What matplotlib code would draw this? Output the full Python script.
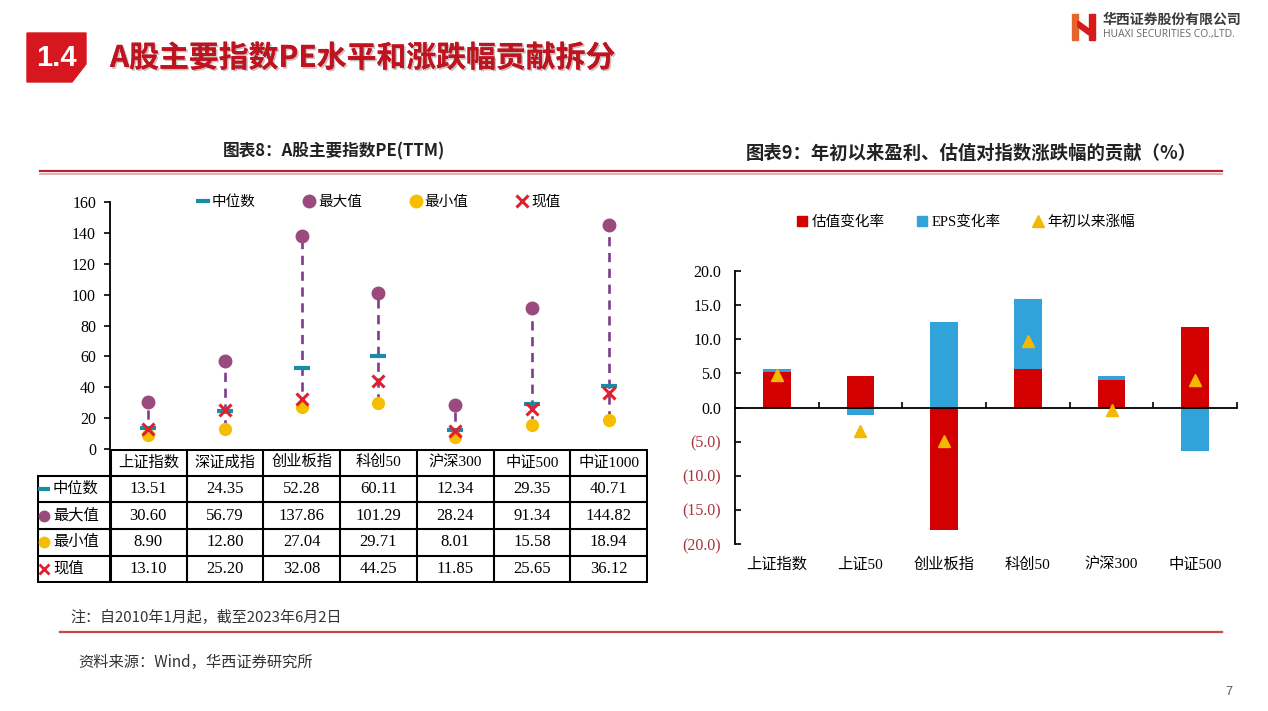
import numpy as np
import matplotlib
matplotlib.use("Agg")
import matplotlib.pyplot as plt
from matplotlib.lines import Line2D
from matplotlib.patches import Patch, Polygon, Rectangle
import matplotlib.patheffects as pe

plt.rcParams['font.family'] = ['Liberation Serif', 'Noto Sans CJK SC']
CJK = ['Noto Sans CJK SC', 'DejaVu Sans']

# left chart: PE(TTM) of the main A-share indices
pe_names = ["上证指数", "深证成指", "创业板指", "科创50", "沪深300", "中证500", "中证1000"]
pe_median = [13.51, 24.35, 52.28, 60.11, 12.34, 29.35, 40.71]
pe_max = [30.60, 56.79, 137.86, 101.29, 28.24, 91.34, 144.82]
pe_min = [8.90, 12.80, 27.04, 29.71, 8.01, 15.58, 18.94]
pe_now = [13.10, 25.20, 32.08, 44.25, 11.85, 25.65, 36.12]
pe_rows = ["中位数", "最大值", "最小值", "现值"]
pe_yticks = [0, 20, 40, 60, 80, 100, 120, 140, 160]

# right chart: contribution of valuation / EPS to YTD change (%)
ctb_names = ["上证指数", "上证50", "创业板指", "科创50", "沪深300", "中证500"]
ctb_val = [5.25, 4.66, -17.9, 5.7, 4.0, 11.76]
ctb_eps = [0.4, -1.03, 12.6, 10.2, 0.6, -6.4]
ctb_ytd = [4.7, -3.5, -4.85, 9.7, -0.3, 4.1]
ctb_yticks = [-20, -15, -10, -5, 0, 5, 10, 15, 20]

C_MED = "#1A8CA8"
C_MAX = "#9B4A7D"
C_MIN = "#F5BE00"
C_NOW = "#E0202E"
C_LINE = "#7E3C8C"
C_RED = "#D20000"
C_BLUE = "#32A2DA"
C_TRI = "#F5B800"

W, H = 1268, 711


def box(x0, y0, x1, y1):
    return [x0 / W, 1 - y1 / H, (x1 - x0) / W, (y1 - y0) / H]


fig = plt.figure(figsize=(12.68, 7.11), dpi=100)
fig.patch.set_facecolor("white")

# ---- page decoration ----
deco = fig.add_axes([0, 0, 1, 1], zorder=0)
deco.set_xlim(0, W)
deco.set_ylim(H, 0)
deco.axis("off")

deco.add_patch(Polygon([(27, 33), (86, 33), (86, 64), (72, 82), (27, 82)],
                       closed=True, color="#D7171F"))
deco.text(56, 58, "1.4", color="white", fontsize=21, fontweight="bold",
          family=["Liberation Sans", "DejaVu Sans"], ha="center", va="center")
deco.text(110, 58, "A股主要指数PE水平和涨跌幅贡献拆分", color="#BE1420", fontsize=21.5,
          fontweight="bold", family=CJK, ha="left", va="center",
          path_effects=[pe.withSimplePatchShadow(offset=(1.2, -1.2), alpha=0.25),
                        pe.Normal()])

# logo
deco.add_patch(Rectangle((1072, 14), 6, 26, color="#E8632B"))
deco.add_patch(Rectangle((1089, 14), 6, 26, color="#D7191C"))
deco.add_patch(Polygon([(1078, 21), (1089, 29), (1089, 35), (1078, 27)], closed=True,
                       color="#D7191C"))
deco.text(1103, 20, "华西证券股份有限公司", fontsize=10, fontweight="bold", family=CJK,
          color="#3a3a3a", ha="left", va="center")
deco.text(1103, 35, "HUAXI SECURITIES CO.,LTD.", fontsize=7.5, family=["Open Sans", "DejaVu Sans"],
          color="#666666", ha="left", va="center")

deco.text(334, 151, "图表8：A股主要指数PE(TTM)", fontsize=12, fontweight="bold", family=CJK,
          color="#222222", ha="center", va="center")
deco.text(971, 153, "图表9：年初以来盈利、估值对指数涨跌幅的贡献（%）", fontsize=13.2,
          fontweight="bold", family=CJK, color="#222222", ha="center", va="center")
deco.plot([40, 1222], [171, 171], color="#A8282B", lw=1.6)
deco.plot([40, 1222], [173.5, 173.5], color="#E8A0A0", lw=1.2)

deco.text(70, 617, "注：自2010年1月起，截至2023年6月2日", fontsize=10.8, family=CJK,
          style="italic", color="#333333", ha="left", va="center")
deco.plot([60, 1222], [632, 632], color="#C8474A", lw=1.6)
deco.text(78, 662, "资料来源：Wind，华西证券研究所", fontsize=11, family=CJK,
          style="italic", color="#333333", ha="left", va="center")
deco.text(1229, 692, "7", fontsize=9, color="#555555", ha="center", va="center",
          family=["Liberation Sans"])

# ---- left chart ----
axL = fig.add_axes(box(110, 202, 647, 449), zorder=2)
axL.patch.set_alpha(0)
xl = np.arange(len(pe_names)) + 0.5
axL.vlines(xl, pe_min, pe_max, colors=C_LINE, linestyles=(0, (3.5, 2.5)), lw=1.9, zorder=1)
axL.plot(xl, pe_max, "o", color=C_MAX, ms=9, zorder=2)
axL.plot(xl, pe_min, "o", color=C_MIN, ms=8.5, zorder=2)
axL.plot(xl, pe_median, "_", color=C_MED, ms=11, mew=3, zorder=3)
axL.plot(xl, pe_now, "x", color=C_NOW, ms=8, mew=2.2, zorder=4)
axL.set_xlim(0, len(pe_names))
axL.set_ylim(0, 160)
axL.set_yticks(pe_yticks)
axL.set_xticks([])
for s in ["top", "right", "bottom"]:
    axL.spines[s].set_visible(False)
axL.spines["left"].set_linewidth(1.3)
axL.tick_params(axis="y", direction="out", length=4, width=1.2, labelsize=11.5, pad=6)

handlesL = [
    Line2D([], [], ls="none", marker="_", color=C_MED, ms=10, mew=3),
    Line2D([], [], ls="none", marker="o", color=C_MAX, ms=9),
    Line2D([], [], ls="none", marker="o", color=C_MIN, ms=9),
    Line2D([], [], ls="none", marker="x", color=C_NOW, ms=8, mew=2.2),
]
axL.legend(handlesL, pe_rows, ncol=4, loc="center", bbox_to_anchor=(0.5, 1.0),
           frameon=False, fontsize=10.5, handlelength=0.8, handletextpad=0.2,
           columnspacing=3.3)

# table under the left chart
axT = fig.add_axes(box(37, 449, 648, 583), zorder=2)
axT.set_xlim(37, 648)
axT.set_ylim(583, 449)
axT.axis("off")
col_x = np.linspace(110, 647, len(pe_names) + 1)
row_y = [449, 475.5, 502, 529, 555.5, 582]
for i, yy in enumerate(row_y):
    x_start = 110 if i == 0 else 37
    lw = 2.2 if i in (0, len(row_y) - 1) else 1.5
    axT.plot([x_start, 647], [yy, yy], color="black", lw=lw, solid_capstyle="projecting")
axT.plot([37, 37], [row_y[1], row_y[-1]], color="black", lw=2.2)
for j, xx in enumerate(col_x):
    lw = 2.2 if j in (0, len(col_x) - 1) else 1.5
    axT.plot([xx, xx], [row_y[0], row_y[-1]], color="black", lw=lw)

xc_t = (col_x[:-1] + col_x[1:]) / 2
for j, name in enumerate(pe_names):
    axT.text(xc_t[j], (row_y[0] + row_y[1]) / 2, name, ha="center", va="center", fontsize=11)

row_vals = [pe_median, pe_max, pe_min, pe_now]
row_marks = [("_", C_MED, 9, 3), ("o", C_MAX, 7.5, 1), ("o", C_MIN, 7.5, 1), ("x", C_NOW, 6.5, 2)]
for i, (label, vals) in enumerate(zip(pe_rows, row_vals)):
    yc = (row_y[i + 1] + row_y[i + 2]) / 2
    m, c, ms, mew = row_marks[i]
    axT.plot(44, yc, marker=m, color=c, ms=ms, mew=mew, ls="none")
    axT.text(53, yc, label, ha="left", va="center", fontsize=11)
    for j, v in enumerate(vals):
        axT.text(xc_t[j], yc, "%.2f" % v, ha="center", va="center", fontsize=12)

# ---- right chart ----
axR = fig.add_axes(box(735, 271, 1237, 544), zorder=2)
axR.patch.set_alpha(0)
xr = np.arange(len(ctb_names)) + 0.5
val = np.array(ctb_val)
eps = np.array(ctb_eps)
eps_bottom = np.where(np.sign(val) == np.sign(eps), val, 0.0)
axR.bar(xr, val, width=0.33, color=C_RED, zorder=2)
axR.bar(xr, eps, width=0.33, bottom=eps_bottom, color=C_BLUE, zorder=2)
axR.plot(xr, ctb_ytd, "^", color=C_TRI, ms=9, ls="none", zorder=3)
axR.set_xlim(0, len(ctb_names))
axR.set_ylim(-20, 20)
for s in ["top", "right"]:
    axR.spines[s].set_visible(False)
axR.spines["bottom"].set_position(("data", 0))
axR.spines["bottom"].set_linewidth(1.3)
axR.spines["left"].set_linewidth(1.3)
axR.set_xticks(np.arange(1, len(ctb_names) + 1))
axR.tick_params(axis="x", direction="in", length=4, width=1.2, labelbottom=False)
ylabels = ["(%.1f)" % abs(v) if v < 0 else "%.1f" % v for v in ctb_yticks]
axR.set_yticks(ctb_yticks, ylabels)
axR.tick_params(axis="y", direction="in", length=4, width=1.2, labelsize=11.5, pad=10)
for v, t in zip(ctb_yticks, axR.get_yticklabels()):
    if v < 0:
        t.set_color("#A8323A")
for i, name in enumerate(ctb_names):
    axR.text(xr[i], -23, name, ha="center", va="center", fontsize=11, clip_on=False)

handlesR = [
    Patch(color=C_RED),
    Patch(color=C_BLUE),
    Line2D([], [], ls="none", marker="^", color=C_TRI, ms=9),
]
axR.legend(handlesR, ["估值变化率", "EPS变化率", "年初以来涨幅"], ncol=3, loc="center",
           bbox_to_anchor=(0.46, 1.18), frameon=False, fontsize=10.5,
           handlelength=0.7, handleheight=0.7, handletextpad=0.3, columnspacing=2.2)

fig.savefig("out.png", dpi=100)
